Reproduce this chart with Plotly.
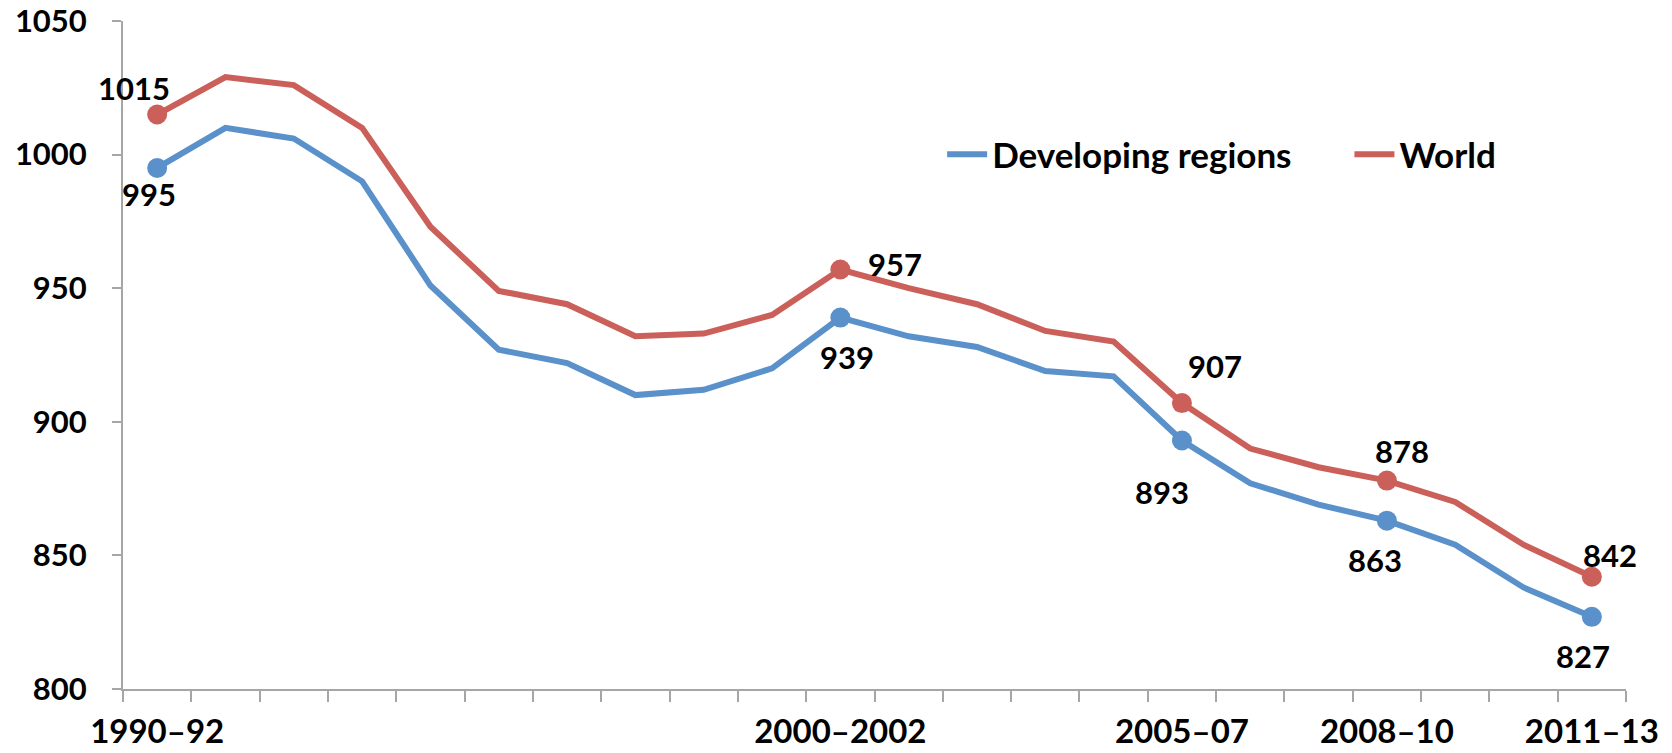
import plotly.graph_objects as go

periods = ["1990–92", "1991–93", "1992–94", "1993–95", "1994–96", "1995–97",
           "1996–98", "1997–99", "1998–2000", "1999–2001", "2000–2002", "2001–03",
           "2002–04", "2003–05", "2004–06", "2005–07", "2006–08", "2007–09",
           "2008–10", "2009–11", "2010–12", "2011–13"]

world = [1015, 1029, 1026, 1010, 973, 949, 944, 932, 933, 940, 957, 950,
         944, 934, 930, 907, 890, 883, 878, 870, 854, 842]
developing = [995, 1010, 1006, 990, 951, 927, 922, 910, 912, 920, 939, 932,
              928, 919, 917, 893, 877, 869, 863, 854, 838, 827]

shown_ticks = ["1990–92", "2000–2002", "2005–07", "2008–10", "2011–13"]
labelled_idx = [0, 10, 15, 18, 21]

# label offsets (px) for data labels: (dx, dy)
world_offsets = [(-23, 27), (55, 6), (33, 37), (15, 30), (18, 22)]
dev_offsets = [(-8, -26), (7, -39), (-20, -51), (-12, -39), (-9, -39)]

BLUE = "#5A91CA"
RED = "#CB605A"
FONT = "Lato"

x = list(range(len(periods)))

fig = go.Figure()
fig.add_trace(go.Scatter(
    x=x, y=developing, mode="lines", name="Developing regions",
    line=dict(color=BLUE, width=6), showlegend=True, legend="legend"))
fig.add_trace(go.Scatter(
    x=x, y=world, mode="lines", name="World",
    line=dict(color=RED, width=6), showlegend=True, legend="legend2"))
fig.add_trace(go.Scatter(
    x=[x[i] for i in labelled_idx], y=[developing[i] for i in labelled_idx],
    mode="markers", marker=dict(color=BLUE, size=20), showlegend=False))
fig.add_trace(go.Scatter(
    x=[x[i] for i in labelled_idx], y=[world[i] for i in labelled_idx],
    mode="markers", marker=dict(color=RED, size=20), showlegend=False))

for k, i in enumerate(labelled_idx):
    for series, offs in ((world, world_offsets), (developing, dev_offsets)):
        fig.add_annotation(
            x=x[i], y=series[i], text=str(series[i]), showarrow=False,
            xshift=offs[k][0], yshift=offs[k][1],
            font=dict(family=FONT, size=31, color="black", weight=700))

legend_style = dict(orientation="h", xanchor="left", yanchor="middle", y=0.80,
                    font=dict(family=FONT, size=35, color="black", weight=700),
                    bgcolor="rgba(0,0,0,0)", itemwidth=40)

fig.update_layout(
    width=1672, height=753,
    margin=dict(l=123, r=46, t=21, b=64, autoexpand=False),
    plot_bgcolor="white", paper_bgcolor="white",
    font=dict(family=FONT, size=32, color="black", weight=700),
    showlegend=True,
    legend=dict(x=0.545, **legend_style),
    legend2=dict(x=0.816, **legend_style),
    xaxis=dict(
        range=[-0.5, len(periods) - 0.5], showgrid=False, zeroline=False,
        showline=True, linecolor="#A6A6A6", linewidth=2, automargin=False,
        tickvals=[periods.index(t) for t in shown_ticks], ticktext=shown_ticks,
        ticks="", ticklabelstandoff=12, ticklabeloverflow="allow",
        minor=dict(tick0=-0.5, dtick=1, ticks="outside", ticklen=11,
                   tickcolor="#A6A6A6", tickwidth=2, showgrid=False),
        tickfont=dict(family=FONT, size=33, color="black", weight=700)),
    yaxis=dict(
        range=[800, 1050], dtick=50, showgrid=False, zeroline=False,
        showline=True, linecolor="#A6A6A6", linewidth=2, automargin=False,
        ticks="outside", ticklen=9, tickcolor="#A6A6A6", tickwidth=2,
        ticklabelstandoff=19, ticklabeloverflow="allow",
        tickfont=dict(family=FONT, size=31, color="black", weight=700)),
)

# remove the page's default body margin so the figure fills the window exactly
fig.write_html("out.html",
               config={"displayModeBar": False},
               post_script="document.body.style.margin='0';"
                           "document.body.style.overflow='hidden';")
